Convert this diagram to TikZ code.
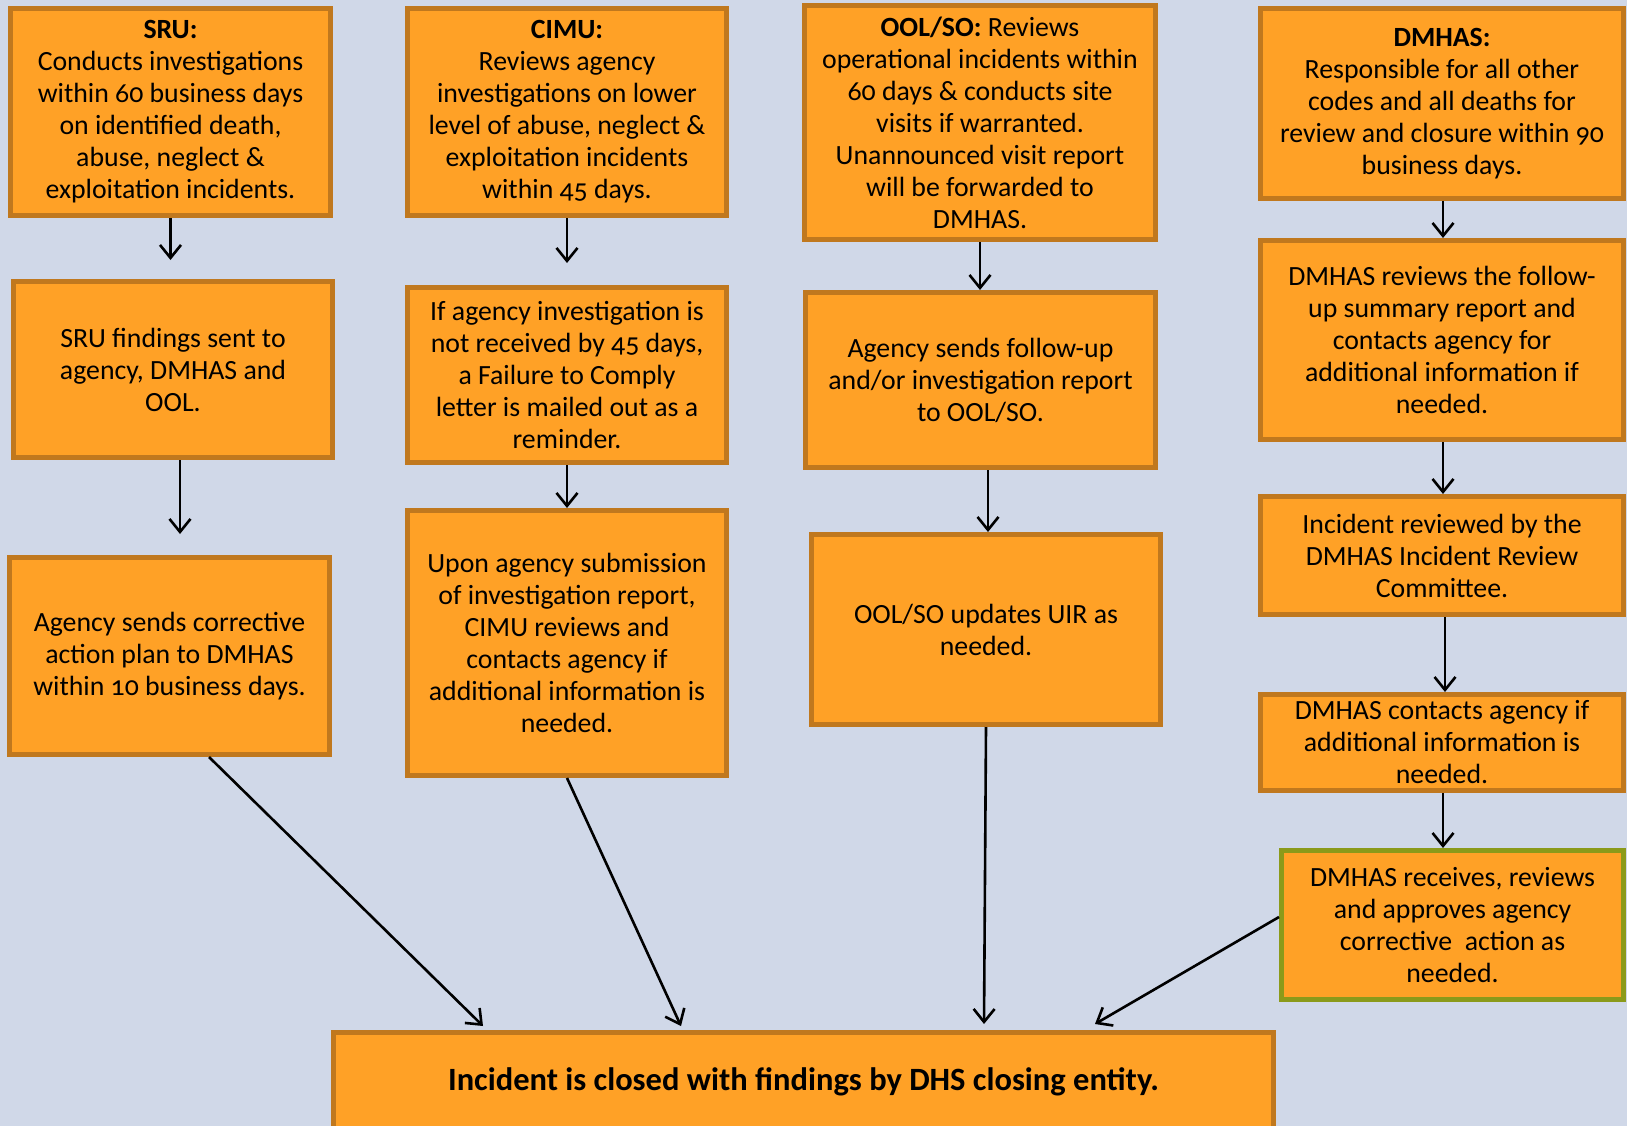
\documentclass[tikz,border=0pt]{standalone}
\usepackage{fontspec}
\setmainfont{Carlito}[Numbers=OldStyle]
\usetikzlibrary{arrows.meta}
\definecolor{bgc}{RGB}{208,216,232}
\definecolor{boxc}{RGB}{255,161,38}
\definecolor{bordc}{RGB}{192,120,30}
\definecolor{greenc}{RGB}{139,154,26}
\tikzset{
  box/.style={draw=bordc, fill=boxc, line width=5pt, align=center, inner sep=0pt,
    font=\fontsize{27.8}{32}\selectfont, text=black},
  arr/.style={draw=black, line width=2.6pt, -{Straight Barb[length=13pt,width=21pt,line width=2.6pt]}}
}
\newcommand{\bx}[6]{% name, cx, cy, w, h, text
  \node[box, minimum width=#4pt-5pt, minimum height=#5pt-5pt] (#1) at (#2,#3) {#6};}
\begin{document}
\begin{tikzpicture}[x=1pt,y=-1pt]
\fill[bgc] (0,0) rectangle (1627,1126);
\useasboundingbox (0,0) rectangle (1627,1126);

\bx{s1}{170.5}{112}{325}{212}{\textbf{SRU:}\\Conducts investigations\\within 60 business days\\on identified death,\\abuse, neglect \&\\exploitation incidents.}
\bx{s2}{173}{369.5}{324}{181}{SRU findings sent to\\agency, DMHAS and\\OOL.}
\bx{s3}{169.5}{656}{325}{202}{Agency sends corrective\\action plan to DMHAS\\within 10 business days.}

\bx{c1}{567}{112}{324}{212}{\textbf{CIMU:}\\Reviews agency\\investigations on lower\\level of abuse, neglect \&\\exploitation incidents\\within 45 days.}
\bx{c2}{567}{375}{324}{180}{If agency investigation is\\not received by 45 days,\\a Failure to Comply\\letter is mailed out as a\\reminder.}
\bx{c3}{567}{643}{324}{270}{Upon agency submission\\of investigation report,\\CIMU reviews and\\contacts agency if\\additional information is\\needed.}

\bx{o1}{980}{122.5}{356}{239}{\textbf{OOL/SO:} Reviews\\operational incidents within\\60 days \& conducts site\\visits if warranted.\\Unannounced visit report\\will be forwarded to\\DMHAS.}
\bx{o2}{980.5}{380}{355}{180}{Agency sends follow-up\\and/or investigation report\\to OOL/SO.}
\bx{o3}{986}{629.5}{354}{195}{OOL/SO updates UIR as\\needed.}

\bx{d1}{1442}{103.5}{368}{195}{\textbf{DMHAS:}\\Responsible for all other\\codes and all deaths for\\review and closure within 90\\business days.}
\bx{d2}{1442}{340}{368}{204}{DMHAS reviews the follow-\\up summary report and\\contacts agency for\\additional information if\\needed.}
\bx{d3}{1442}{555.5}{368}{123}{Incident reviewed by the\\DMHAS Incident Review\\Committee.}
\bx{d4}{1442}{742.5}{368}{101}{DMHAS contacts agency if\\additional information is\\needed.}
\node[box, draw=greenc, minimum width=342pt, minimum height=149pt] (d5) at (1452.5,925) {DMHAS receives, reviews\\and approves agency\\corrective\ \ action as\\needed.};

\node[box, minimum width=940pt, minimum height=99pt, font=\fontsize{32.5}{38}\selectfont\bfseries] (bot) at (803.5,1082) {Incident is closed with findings by DHS closing entity.};

% arrows
\draw[arr, shorten >=19pt] (s1.south) -- (s1.south |- s2.north);
\draw[arr, shorten >=21pt] ([xshift=7pt]s2.south) -- ([xshift=7pt]s2.south |- s3.north);
\draw[arr, shorten >=22pt] (c1.south) -- (c1.south |- c2.north);
\draw[arr] (c2.south) -- (c2.south |- c3.north);
\draw[arr] (o1.south) -- (o1.south |- o2.north);
\draw[arr] ([xshift=7.5pt]o2.south) -- ([xshift=7.5pt]o2.south |- o3.north);
\draw[arr] ([xshift=1pt]d1.south) -- ([xshift=1pt]d1.south |- d2.north);
\draw[arr] ([xshift=1pt]d2.south) -- ([xshift=1pt]d2.south |- d3.north);
\draw[arr] ([xshift=3pt]d3.south) -- ([xshift=3pt]d3.south |- d4.north);
\draw[arr] ([xshift=1pt]d4.south) -- ([xshift=1pt]d4.south |- d5.north);

\draw[arr] ([xshift=39.5pt]s3.south) -- ([xshift=-320.5pt,yshift=4pt]bot.north);
\draw[arr] (c3.south) -- ([xshift=-122.5pt,yshift=4pt]bot.north);
\draw[arr] (o3.south) -- ([xshift=180.5pt,yshift=6pt]bot.north);
\draw[arr] ([yshift=8pt]d5.west) -- ([xshift=291.5pt,yshift=6pt]bot.north);
\end{tikzpicture}
\end{document}
